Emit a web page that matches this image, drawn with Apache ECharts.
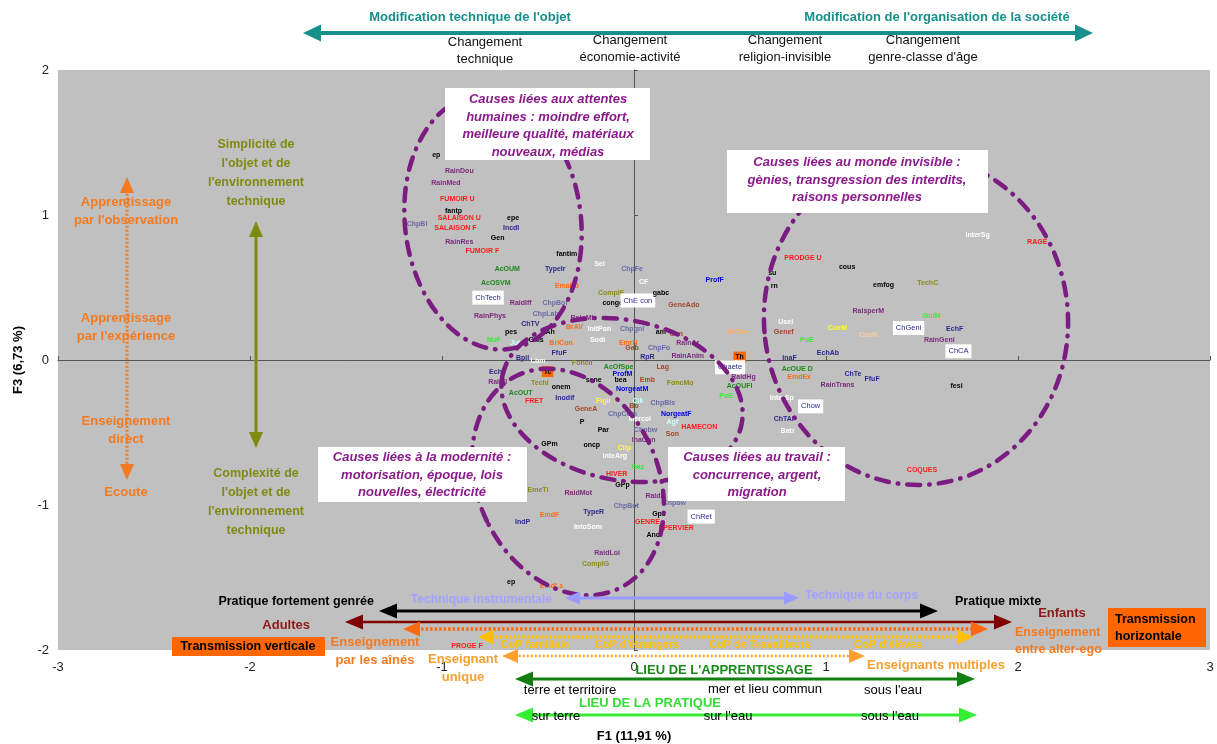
<!DOCTYPE html>
<html><head><meta charset="utf-8">
<script src="https://cdn.jsdelivr.net/npm/echarts@6.0.0/dist/echarts.min.js"></script>
<style>html,body{margin:0;padding:0;background:#fff}#c{width:1217px;height:744px}</style>
</head><body><div id="c"></div>
<script>
// ---- data (F1 / F3 coordinates of the modalities) ----
const labels = [
 'ep','RainDou','RainMed','FUMOIR U','fantp','SALAISON U','ChpBl','SALAISON F','epe','IncdI',
 'Gen','RainRes','FUMOIR F','fantim','AcOUM','TypeIr','AcOSVM','EmaRd','ChTech','RaidIff',
 'ChpBor','CompIF','congo','ChE con','Sel','ChpFe','CF','RainPhys','ChpLab','ChTV',
 'RainMt','BrAV','InitPon','Chpgnl','pes','CAh','NuF','Sodi','GMs','BriCon',
 'Jul','EmrN','Gab','FfuF','Bpil','Lbm','FoncII','AcOfSpe','Tc','EchF',
 'ProfM','RaidII','TechI','sene','bea','onem','NorgeatM','AcOUT','Inodif','FRET',
 'Figll','GeneA','ChpCom','Cik','Bo','P','Par','GPm','oncp','InaCon',
 'Clip','InteArg','Gaz','HIVER','GPp','EmeTi','RaidMot','RaidL','ChpBot','Chpbw',
 'ChRet','EmdF','TypeR','Gps','IndP','IntoSom','GENRE','EPERVIER','Ano','RaidLoi',
 'CompIG','ep','EmdLs','ChpBls','NorgeatF','Mercol','Agf','HAMECON','Chpbw','Son',
 'ProfF','PRODGE U','cous','su','rn','gabc','GeneAdo','am','Con','MiCon',
 'Genef','Usel','RainAr','ChpFo','PuE','RainAnim','Th','InaF','EchAb','RpR',
 'Lag','Chaete','AcOUE D','EmdEx','RaidHg','Emb','FoncMo','AcOUFI','RainTrans','PoE',
 'InterSp','Chow','ChTAl','Batr','InterSg','emfog','TechC','RaisperM','GuiM','CoeM',
 'ChGeni','EchF','CoeN','RainGeni','ChCA','ChTe','FfuF','fesi','RAGE','COQUES',
 'PROGE F'
];
const xs = [
 -1.03,-0.91,-0.98,-0.92,-0.94,-0.91,-1.13,-0.93,-0.63,-0.64,
 -0.71,-0.91,-0.79,-0.35,-0.66,-0.41,-0.72,-0.35,-0.76,-0.59,
 -0.41,-0.12,-0.11,0.02,-0.18,-0.01,0.05,-0.75,-0.46,-0.54,
 -0.27,-0.31,-0.18,-0.01,-0.64,-0.45,-0.73,-0.19,-0.51,-0.38,
 -0.62,-0.03,-0.01,-0.39,-0.58,-0.50,-0.27,-0.08,-0.45,-0.71,
 -0.06,-0.71,-0.49,-0.21,-0.07,-0.38,-0.01,-0.59,-0.36,-0.52,
 -0.16,-0.25,-0.06,0.02,0.00,-0.27,-0.16,-0.44,-0.22,0.05,
 -0.05,-0.10,0.02,-0.09,-0.06,-0.50,-0.29,0.11,-0.04,0.21,
 0.35,-0.44,-0.21,0.13,-0.58,-0.24,0.07,0.22,0.10,-0.14,
 -0.20,-0.64,-0.43,0.15,0.22,0.03,0.20,0.34,0.06,0.20,
 0.42,0.88,1.11,0.72,0.73,0.14,0.26,0.14,0.22,0.54,
 0.78,0.79,0.28,0.13,0.90,0.28,0.55,0.81,1.01,0.07,
 0.15,0.50,0.85,0.86,0.57,0.07,0.24,0.55,1.06,0.48,
 0.77,0.92,0.78,0.80,1.79,1.30,1.53,1.22,1.55,1.06,
 1.43,1.67,1.22,1.59,1.69,1.14,1.24,1.68,2.10,1.50,
 -0.87
];
const ys = [
 1.41,1.30,1.22,1.11,1.03,0.98,0.94,0.91,0.98,0.91,
 0.84,0.81,0.75,0.73,0.63,0.63,0.53,0.51,0.43,0.39,
 0.39,0.46,0.39,0.41,0.66,0.63,0.54,0.30,0.32,0.25,
 0.29,0.23,0.21,0.21,0.19,0.19,0.14,0.14,0.14,0.12,
 0.12,0.12,0.08,0.05,0.01,-0.01,-0.02,-0.05,-0.08,-0.08,
 -0.10,-0.15,-0.16,-0.14,-0.14,-0.19,-0.20,-0.23,-0.26,-0.28,
 -0.28,-0.34,-0.37,-0.28,-0.32,-0.43,-0.48,-0.58,-0.59,-0.55,
 -0.61,-0.66,-0.74,-0.79,-0.86,-0.90,-0.92,-0.94,-1.01,-0.99,
 -1.08,-1.07,-1.05,-1.06,-1.12,-1.15,-1.12,-1.16,-1.21,-1.33,
 -1.41,-1.53,-1.56,-0.30,-0.37,-0.41,-0.43,-0.46,-0.48,-0.51,
 0.55,0.70,0.64,0.60,0.51,0.46,0.38,0.19,0.18,0.19,
 0.19,0.26,0.12,0.08,0.14,0.03,0.02,0.01,0.05,0.02,
 -0.05,-0.05,-0.06,-0.12,-0.12,-0.14,-0.16,-0.18,-0.17,-0.25,
 -0.26,-0.32,-0.41,-0.49,0.86,0.52,0.53,0.34,0.30,0.22,
 0.22,0.21,0.17,0.14,0.06,-0.10,-0.13,-0.18,0.81,-0.76,
 -1.97
];
const kinds = [
 'K','P','P','R','K','R','S','R','K','N',
 'K','P','R','K','G','N','G','O','X','P',
 'S','Y','K','X','W','S','W','P','S','N',
 'P','O','W','S','K','K','L','W','K','O',
 'C','O','B','N','N','W','Y','G','Q','N',
 'U','P','Y','K','K','K','U','G','N','R',
 'Yl','B','S','C','B','K','K','K','K','P',
 'Yl','W','L','R','K','Y','P','P','S','S',
 'X','O','N','K','N','W','R','R','K','P',
 'Y','K','O','S','U','W','C','R','S','B',
 'U','R','K','K','K','K','B','K','B','LO',
 'B','W','P','S','L','P','Q','N','N','N',
 'B','X','G','O','P','B','Y','G','P','L',
 'W','X','N','W','W','K','Y','P','L','Yl',
 'X','N','Pe','P','X','N','N','K','R','R',
 'R'
];
const xTicks = {min: -3, max: 3, interval: 1};
const yTicks = {min: -2, max: 2, interval: 1};

// ---- styles ----
const palette = {K:'#000000',P:'#7d2a7d',R:'#ff1a1a',N:'#2a2a8a',S:'#6a6aa8',G:'#1d8a1d',
  L:'#33ee33',O:'#ff6a13',B:'#a0452a',Y:'#8a8a1a',W:'#ffffff',U:'#0000e0',Yl:'#ffff20',
  C:'#ccffff',LO:'#ffb050',Pe:'#ffcc99'};
const FONT = 'Liberation Sans, Arial, sans-serif';
function labelStyle(k){
  const base = {show:true, position:'inside', formatter:'{b}', fontSize:7, fontWeight:'bold', fontFamily:FONT, opacity:1};
  if(k==='X') return Object.assign(base,{color:'#2a2a8a', backgroundColor:'#ffffff', padding:[3,3], fontWeight:'normal', fontSize:7.5});
  if(k==='Q') return Object.assign(base,{color:'#000', backgroundColor:'#ff6600', padding:[2,2]});
  return Object.assign(base,{color: palette[k]});
}
const points = labels.map((n,i)=>({name:n, value:[xs[i], ys[i]], label: labelStyle(kinds[i])}));

const chart = echarts.init(document.getElementById('c'), null, {renderer:'canvas'});

function T(text,x,y,color,size,weight,opt){
  opt = opt||{};
  return {type:'text', x:x, y:y, z:opt.z||20, style:{text:text, fill:color,
    font:(opt.italic?'italic ':'')+(weight||'normal')+' '+size+'px '+FONT,
    align:opt.align||'center', textAlign:opt.align||'center',
    verticalAlign:'middle', textVerticalAlign:'middle', lineHeight:opt.lh||Math.round(size*1.35)}};
}
function arrow(x1,y1,x2,y2,o){
  const col=o.color, w=o.width||3, hl=o.hl||15, hw=o.hw||13;
  const dx=x2-x1, dy=y2-y1, L=Math.hypot(dx,dy), ux=dx/L, uy=dy/L, px=-uy, py=ux;
  const els=[]; let sx=x1, sy=y1, ex=x2, ey=y2;
  function head(ax,ay,dxn,dyn){
    return {type:'polygon', z:o.z||15, shape:{points:[[ax,ay],[ax+dxn*hl+px*hw/2, ay+dyn*hl+py*hw/2],[ax+dxn*hl-px*hw/2, ay+dyn*hl-py*hw/2]]}, style:{fill:col}};
  }
  if(o.start!==false){ sx=x1+ux*hl*0.8; sy=y1+uy*hl*0.8; els.push(head(x1,y1,ux,uy)); }
  if(o.end!==false){ ex=x2-ux*hl*0.8; ey=y2-uy*hl*0.8; els.push(head(x2,y2,-ux,-uy)); }
  els.unshift({type:'line', z:o.z||15, shape:{x1:sx,y1:sy,x2:ex,y2:ey}, style:{stroke:col, lineWidth:w, lineDash:o.dash||null}});
  return els;
}
function box(x,y,w,h,lines,cx,ly){
  const els=[{type:'rect', z:30, shape:{x:x,y:y,width:w,height:h}, style:{fill:'#ffffff'}}];
  els.push(T(lines, cx, ly, '#8b1a8b', 13, 'bold', {italic:true, z:31, lh:17.5}));
  return els;
}
const purple = '#7a1c80';
function ell(cx,cy,rx,ry,rot){
  return {type:'ellipse', z:12, x:cx, y:cy, rotation:rot, shape:{cx:0,cy:0,rx:rx,ry:ry},
    style:{fill:null, stroke:purple, lineWidth:4.5, lineDash:[13,9,0.5,9], lineCap:'round'}};
}

let g = [];
// ellipses
g.push(ell(493,222,88,128,0.12));
g.push(ell(622,400,122,80,-0.2));
g.push(ell(568,482,90,118,0.45));
g.push(ell(916,320,152,165,0.08));
// cause boxes
g = g.concat(box(445,88,205,72,"Causes liées aux attentes\nhumaines : moindre effort,\nmeilleure qualité, matériaux\nnouveaux, médias",548,126));
g = g.concat(box(727,150,261,63,"Causes liées au monde invisible :\ngènies, transgression des interdits,\nraisons personnelles",857,180));
g = g.concat(box(318,447,209,55,"Causes liées à la modernité :\nmotorisation, époque, lois\nnouvelles, électricité",422,475));
g = g.concat(box(668,447,177,54,"Causes liées au travail :\nconcurrence, argent,\nmigration",757,475));
// top
const teal='#178f8a';
g = g.concat(arrow(303,33,1093,33,{color:teal,width:4,hl:18,hw:17}));
g.push(T("Modification technique de l'objet",470,17,teal,13,'bold'));
g.push(T("Modification de l'organisation de la société",937,17,teal,13,'bold'));
g.push(T("Changement\ntechnique",485,51,'#111',13,'normal',{lh:17}));
g.push(T("Changement\néconomie-activité",630,49,'#111',13,'normal',{lh:17}));
g.push(T("Changement\nreligion-invisible",785,49,'#111',13,'normal',{lh:17}));
g.push(T("Changement\ngenre-classe d'âge",923,49,'#111',13,'normal',{lh:17}));
// left
const orange='#f47a20', olive='#7f8a10';
g = g.concat(arrow(127,177,127,480,{color:orange,width:3,dash:[2,2],hl:16,hw:14}));
g.push(T("Apprentissage\npar l'observation",126,211,orange,13,'bold',{lh:18}));
g.push(T("Apprentissage\npar l'expérience",126,327,orange,13,'bold',{lh:18}));
g.push(T("Enseignement\ndirect",126,430,orange,13,'bold',{lh:18}));
g.push(T("Ecoute",126,492,orange,13,'bold'));
g = g.concat(arrow(256,221,256,448,{color:olive,width:3,hl:16,hw:14}));
g.push(T("Simplicité de\nl'objet et de\nl'environnement\ntechnique",256,173,olive,12.5,'bold',{lh:19}));
g.push(T("Complexité de\nl'objet et de\nl'environnement\ntechnique",256,502,olive,12.5,'bold',{lh:19}));
// bottom arrows
g = g.concat(arrow(565,598,799,598,{color:'#9999ff',width:3,hl:15,hw:13}));
g.push(T("Technique instrumentale",552,600,'#a3a3ff',12,'bold',{align:'right'}));
g.push(T("Technique du corps",805,596,'#a3a3ff',12,'bold',{align:'left'}));
g = g.concat(arrow(379,611,938,611,{color:'#000',width:3,hl:18,hw:15}));
g.push(T("Pratique fortement genrée",374,602,'#000',12.5,'bold',{align:'right'}));
g.push(T("Pratique mixte",955,602,'#000',12.5,'bold',{align:'left'}));
g = g.concat(arrow(345,622,1012,622,{color:'#800000',width:2.5,hl:18,hw:15}));
g.push(T("Adultes",310,625,'#8b1a1a',13,'bold',{align:'right'}));
g.push(T("Enfants",1062,613,'#8b1a1a',13,'bold'));
g = g.concat(arrow(403,629,988,629,{color:'#ff6a10',width:3.5,dash:[2.5,2],hl:17,hw:15}));
g.push(T("Enseignement\npar les aînés",375,651,'#f47a20',13,'bold',{lh:18}));
g.push(T("Enseignement\nentre alter-ego",1015,641,'#f47a20',12.5,'bold',{align:'left',lh:17}));
g = g.concat(arrow(478,637,973,637,{color:'#ffc000',width:3.5,dash:[2.5,2],hl:16,hw:15}));
g.push(T("CoP familiale",535,645,'#ffc000',11,'bold'));
g.push(T("CoP d'étrangers",637,645,'#ffc000',11,'bold'));
g.push(T("CoP de Travailleurs",760,645,'#ffc000',11,'bold'));
g.push(T("CoP d'élèves",888,645,'#ffc000',11,'bold'));
g = g.concat(arrow(502,656,865,656,{color:'#ffa030',width:2.5,dash:[2,2],hl:16,hw:14}));
g.push(T("Enseignant\nunique",463,668,'#f5a030',13,'bold',{lh:18}));
g.push(T("Enseignants multiples",936,665,'#f5a030',13,'bold'));
g.push({type:'rect', z:25, shape:{x:172,y:637,width:153,height:19}, style:{fill:'#ff6600'}});
g.push(T("Transmission verticale",248,647,'#000',12.5,'bold',{z:26}));
g.push({type:'rect', z:25, shape:{x:1108,y:608,width:98,height:39}, style:{fill:'#ff6600'}});
g.push(T("Transmission\nhorizontale",1115,628,'#000',12.5,'bold',{z:26,align:'left',lh:17}));
// lieu
g.push(T("LIEU DE L'APPRENTISSAGE",724,670,'#1a8a1a',13,'bold'));
g = g.concat(arrow(515,679,975,679,{color:'#118011',width:3,hl:18,hw:15}));
g.push(T("terre et territoire",570,690,'#000',13,'normal'));
g.push(T("mer et lieu commun",765,689,'#000',13,'normal'));
g.push(T("sous l'eau",893,690,'#000',13,'normal'));
g.push(T("LIEU DE LA PRATIQUE",650,703,'#33dd33',13,'bold'));
g = g.concat(arrow(515,715,977,715,{color:'#33ee33',width:3,hl:18,hw:15}));
g.push(T("sur terre",556,716,'#000',13,'normal'));
g.push(T("sur l'eau",728,716,'#000',13,'normal'));
g.push(T("sous l'eau",890,716,'#000',13,'normal'));

const axisBase = {type:'value', splitLine:{show:false}};
chart.setOption({
  animation:false,
  backgroundColor:'#ffffff',
  grid:{left:58,right:7,top:70,bottom:94,show:true,backgroundColor:'#c0c0c0',borderWidth:0,
    outerBoundsMode:'none', containLabel:false},
  xAxis:[
    Object.assign({}, axisBase, xTicks, {position:'bottom', axisLine:{show:false}, axisTick:{show:false},
      axisLabel:{color:'#222',fontSize:13,margin:11,fontFamily:FONT},
      name:'F1 (11,91 %)', nameLocation:'middle', nameGap:80,
      nameTextStyle:{fontWeight:'bold',fontSize:13,color:'#000',fontFamily:FONT}}),
    Object.assign({}, axisBase, xTicks, {position:'top', axisLine:{show:true,onZero:true,lineStyle:{color:'#555',width:1}},
      axisTick:{show:true,length:4,lineStyle:{color:'#555'}}, axisLabel:{show:false}})
  ],
  yAxis:[
    Object.assign({}, axisBase, yTicks, {position:'left', axisLine:{show:false}, axisTick:{show:false},
      axisLabel:{color:'#222',fontSize:13,margin:9,fontFamily:FONT},
      name:'F3 (6,73 %)', nameLocation:'middle', nameGap:33, nameRotate:90,
      nameTextStyle:{fontWeight:'bold',fontSize:13,color:'#000',fontFamily:FONT}}),
    Object.assign({}, axisBase, yTicks, {position:'right', axisLine:{show:true,onZero:true,lineStyle:{color:'#555',width:1}},
      axisTick:{show:true,length:4,lineStyle:{color:'#555'}}, axisLabel:{show:false}})
  ],
  series:[{
    type:'scatter', xAxisIndex:0, yAxisIndex:0, z:10,
    symbol:'circle', symbolSize:1, itemStyle:{color:'rgba(0,0,0,0)'},
    data: points,
    labelLayout:{hideOverlap:false},
    emphasis:{disabled:true}
  }],
  graphic:{elements:g}
});
</script>
</body></html>
